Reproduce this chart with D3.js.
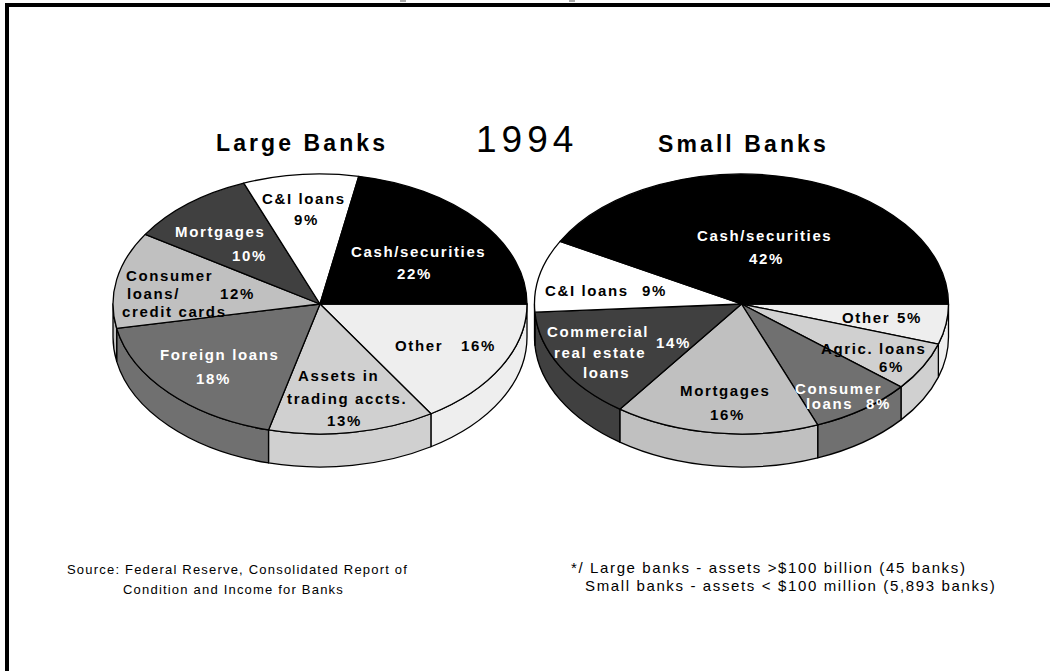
<!DOCTYPE html>
<html><head><meta charset="utf-8">
<style>html,body{margin:0;padding:0;background:#fff}svg{display:block}text{font-family:"Liberation Sans",Arial,sans-serif}</style>
<script src="https://cdn.jsdelivr.net/npm/d3@7/dist/d3.min.js"></script>
</head><body>
<script>
// --- data ---
const categoriesLarge = ["Other","Assets in trading accts.","Foreign loans","Consumer loans/credit cards","Mortgages","C&I loans","Cash/securities"];
const valuesLarge = [16,13,18,12,10,9,22];
const categoriesSmall = ["Other","Agric. loans","Consumer loans","Mortgages","Commercial real estate loans","C&I loans","Cash/securities"];
const valuesSmall = [5,6,8,16,14,9,42];
const fillsLarge = ["#eeeeee","#d0d0d0","#707070","#c0c0c0","#404040","#ffffff","#000000"];
const fillsSmall = ["#eeeeee","#d0d0d0","#707070","#c0c0c0","#404040","#ffffff","#000000"];

// label layout: [text, left x, baseline y, colour]
const labelsLarge = [
 ["C&I loans",262,204,"#000"],["9%",294,225,"#000"],
 ["Mortgages",175,237,"#fff"],["10%",232,261,"#fff"],
 ["Cash/securities",351,257,"#fff"],["22%",397,279,"#fff"],
 ["Consumer",126,281,"#000"],["loans/",127,299,"#000"],["12%",220,299,"#000"],["credit cards",122,317,"#000"],
 ["Foreign loans",160,360,"#fff"],["18%",196,384,"#fff"],
 ["Other",395,351,"#000"],["16%",461,351,"#000"],
 ["Assets in",298,381,"#000"],["trading accts.",287,404,"#000"],["13%",327,426,"#000"]
];
const labelsSmall = [
 ["Cash/securities",697,241,"#fff"],["42%",749,264,"#fff"],
 ["C&I loans",545,296,"#000"],["9%",642,296,"#000"],
 ["Commercial",547,337,"#fff"],["14%",656,348,"#fff"],["real estate",554,358,"#fff"],["loans",583,378,"#fff"],
 ["Mortgages",680,396,"#000"],["16%",710,420,"#000"],
 ["Consumer",795,394,"#fff"],["loans",806,409,"#fff"],["8%",866,409,"#fff"],
 ["Other",842,323,"#000"],["5%",897,323,"#000"],
 ["Agric. loans",821,354,"#000"],["6%",879,372,"#000"]
];

const width=1050,height=671;
const svg=d3.select("body").append("svg").attr("width",width).attr("height",height);

// frame
const frame=svg.append("g").attr("fill","#000");
frame.append("rect").attr("x",5).attr("y",3).attr("width",width-5).attr("height",4);
frame.append("rect").attr("x",5).attr("y",3).attr("width",4).attr("height",height-3);
[400,569].forEach(x=>svg.append("rect").attr("x",x).attr("y",0).attr("width",6).attr("height",2).attr("fill","#aaa"));

const pieGen=d3.pie().sort(null).startAngle(0).endAngle(2*Math.PI);

function drawPie(values,fills,labels,cx,cy,rx,ry,depth){
  const X=d3.scaleLinear().domain([-1,1]).range([cx-rx,cx+rx]);
  const Y=d3.scaleLinear().domain([-1,1]).range([cy-ry,cy+ry]);
  const px=a=>X(Math.cos(a)), py=a=>Y(Math.sin(a));
  const g=svg.append("g").attr("stroke","#000").attr("stroke-width",1.3).attr("stroke-linejoin","round");
  const arcs=pieGen(values).map((d,i)=>({a0:d.startAngle,a1:d.endAngle,fill:fills[i]}));
  // side walls (only the front half of the ellipse shows)
  arcs.filter(d=>d.a0<Math.PI).forEach(d=>{
    const a1=Math.min(d.a1,Math.PI);
    const p=`M${px(d.a0)},${py(d.a0)}A${rx},${ry} 0 0 1 ${px(a1)},${py(a1)}`+
      `L${px(a1)},${py(a1)+depth}A${rx},${ry} 0 0 0 ${px(d.a0)},${py(d.a0)+depth}Z`;
    g.append("path").attr("d",p).attr("fill",d.fill);
  });
  // top face
  arcs.forEach(d=>{
    const large=(d.a1-d.a0)>Math.PI?1:0;
    const p=`M${X(0)},${Y(0)}L${px(d.a0)},${py(d.a0)}A${rx},${ry} 0 ${large} 1 ${px(d.a1)},${py(d.a1)}Z`;
    g.append("path").attr("d",p).attr("fill",d.fill);
  });
  svg.append("g").selectAll("text").data(labels).join("text")
    .attr("x",d=>d[1]).attr("y",d=>d[2]).attr("fill",d=>d[3])
    .attr("font-size",15).attr("font-weight","bold").attr("letter-spacing",1.63)
    .text(d=>d[0]);
}
drawPie(valuesLarge,fillsLarge,labelsLarge,320,304,207,130,33);
drawPie(valuesSmall,fillsSmall,labelsSmall,741.5,304,207,130,33);

// headings
const head=(t,x,y,size,weight,ls)=>svg.append("text").attr("x",x).attr("y",y).attr("font-size",size)
  .attr("font-weight",weight).attr("letter-spacing",ls).attr("fill","#000").text(t);
head("Large Banks",216,151,23,"bold",3.1);
head("1994",476,152,37,"normal",5);
head("Small Banks",658,152,23,"bold",3.1);
// notes
head("Source: Federal Reserve, Consolidated Report of",67,574,13,"normal",1.2);
head("Condition and Income for Banks",123,594,13,"normal",1.2);
head("*/ Large banks - assets >$100 billion (45 banks)",571,573,15,"normal",1.63);
head("Small banks - assets < $100 million (5,893 banks)",585,591,15,"normal",1.63);
</script>
</body></html>
